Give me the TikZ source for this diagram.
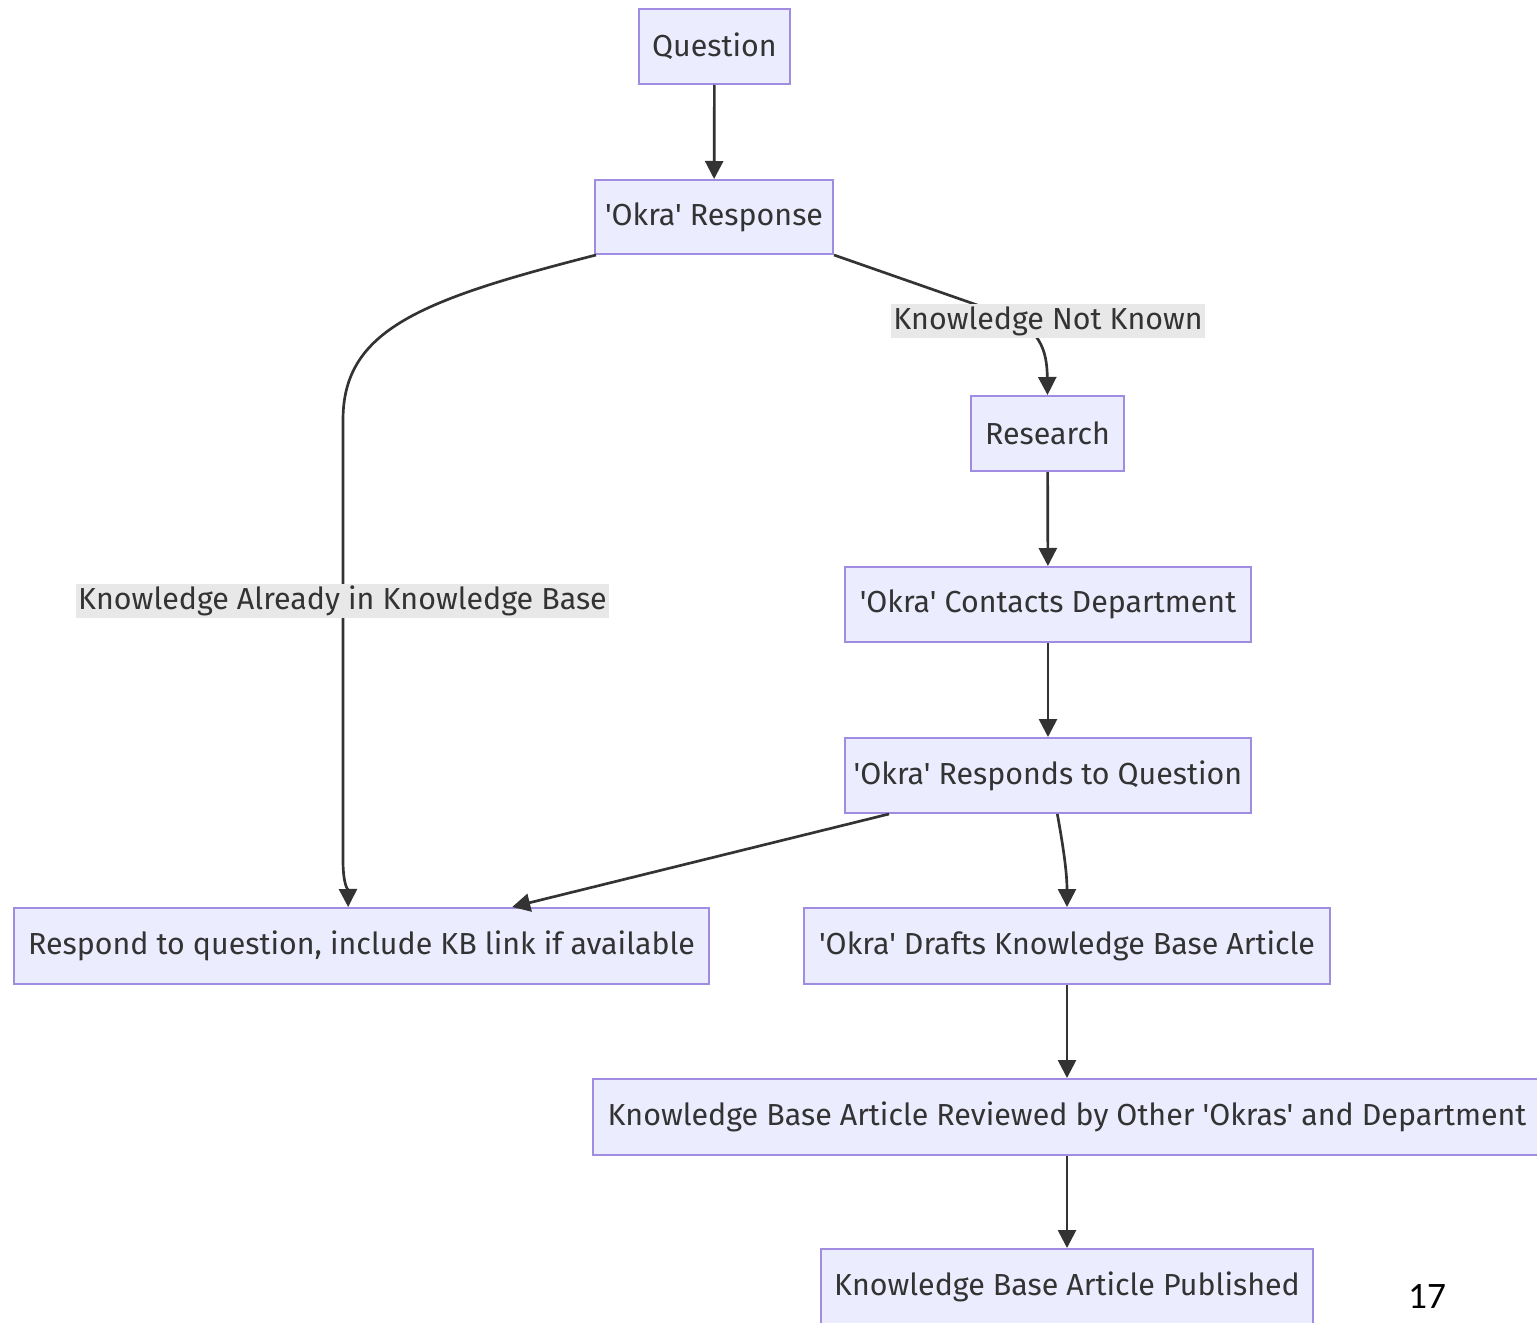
\documentclass[tikz,border=0pt]{standalone}
\usepackage{fontspec}
\setmainfont{Fira Sans}
\newfontfamily\boxfont{Fira Sans}
\newfontfamily\pagefont{Carlito}
\usetikzlibrary{arrows.meta}
\definecolor{boxfill}{HTML}{ECECFF}
\definecolor{boxline}{HTML}{A08CE0}
\definecolor{txt}{HTML}{333333}
\definecolor{lblbg}{HTML}{E8E8E8}
\tikzset{
  px/.style={x=0.75pt,y=-0.75pt},
  flowbox/.style={draw=boxline, fill=boxfill, line width=1.5pt, text=txt, inner sep=0pt,
    font=\boxfont\fontsize{22.8}{26}\selectfont},
  edgelbl/.style={fill=lblbg, text=txt, inner sep=1.5pt, font=\boxfont\fontsize{22.8}{26}\selectfont},
  conn/.style={draw=txt, line width=2pt, -{Triangle[length=13.5pt,width=13.5pt]}},
}
\newcommand{\bx}[6]{\node[flowbox, minimum width={#4*0.75pt}, minimum height={#5*0.75pt}] (#1) at (#2,#3) {#6};}
\begin{document}
\begin{tikzpicture}[px]
\useasboundingbox[fill=white] (0,0) rectangle (1537,1323);
\bx{q}{714.5}{46.5}{151}{75}{Question}
\bx{resp}{714}{217}{238}{74}{'Okra' Response}
\bx{research}{1047.5}{433.5}{153}{75}{Research}
\bx{contacts}{1048}{604.5}{406}{75}{'Okra' Contacts Department}
\bx{responds}{1048}{775.5}{406}{75}{'Okra' Responds to Question}
\bx{answer}{361.5}{946}{695}{76}{Respond to question, include KB link if available}
\bx{drafts}{1067}{946}{526}{76}{'Okra' Drafts Knowledge Base Article}
\bx{review}{1067}{1117}{948}{76}{Knowledge Base Article Reviewed by Other 'Okras' and Department}
\bx{pub}{1067}{1286.5}{492}{75}{Knowledge Base Article Published}

\draw[conn] (q) -- (resp);
\draw[conn] ([xshift=1.5pt]resp.south west) .. controls (420,300) and (343,330) .. (343,420)
   -- (343,860) .. controls (343,885) and (348,890) .. ([xshift=-10pt]answer.north);
\draw[conn] (resp.south east) -- (1000,313) .. controls (1040,327) and (1047,350) .. (research.north);
\draw[conn] (research) -- (contacts);
\draw[conn] (contacts) -- (responds);
\draw[conn] ([xshift=33.75pt]responds.south west) -- ([xshift=113pt]answer.north);
\draw[conn] ([xshift=7pt]responds.south) .. controls (1062,840) and (1067,870) .. (drafts.north);
\draw[conn] (drafts) -- (review);
\draw[conn] (review) -- (pub);

\node[edgelbl] (l1) at (1048,321) {Knowledge Not Known};
\node[edgelbl] (l2) at (342.5,601) {Knowledge Already in Knowledge Base};
\node[font=\pagefont\fontsize{28}{32}\selectfont] (pg) at (1427,1296) {17};
\end{tikzpicture}
\end{document}
